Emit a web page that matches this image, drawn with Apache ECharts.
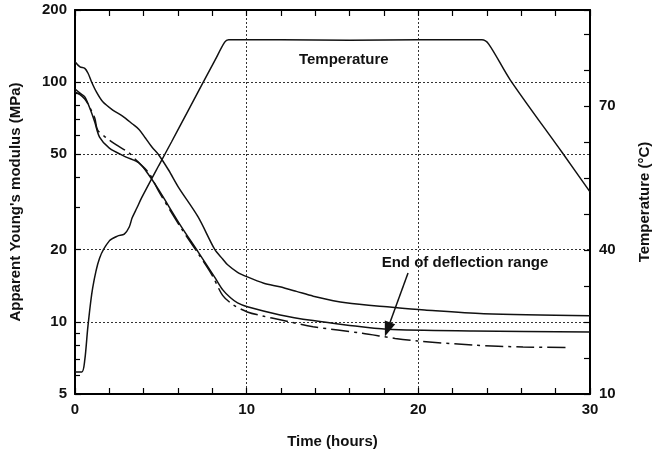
<!DOCTYPE html>
<html>
<head>
<meta charset="utf-8">
<script src="https://cdn.jsdelivr.net/npm/echarts@6/dist/echarts.min.js"></script>
<style>
  html, body { margin: 0; padding: 0; background: #fff; }
  #chart { width: 660px; height: 454px; }
</style>
</head>
<body>
<div id="chart"></div>
<script>
// time (hours) and values
const tempTime = [0, 0.4, 0.57, 0.75, 1.03, 1.43, 2.0, 2.47, 2.87, 3.16, 3.33, 3.61, 3.9, 4.88, 5.62, 6.6, 7.34, 8.15, 8.72, 8.95, 12, 16, 20, 23.7, 24.1, 25.36, 28.4, 30]
const tempValues = [14.6, 14.6, 17.1, 24, 32.1, 38.3, 41.9, 42.9, 43.3, 44.8, 46.7, 48.8, 51, 57.6, 62.5, 69.1, 74.1, 79.5, 83.3, 83.8, 83.8, 83.7, 83.8, 83.8, 82.9, 75.4, 60.2, 52.1]

const upperTime = [0, 0.29, 0.57, 0.76, 0.96, 1.24, 1.62, 2.2, 2.77, 3.35, 3.73, 4.1, 4.48, 4.88, 5.45, 6.02, 7.17, 8.15, 8.6, 8.89, 9.47, 10.04, 11.0, 11.93, 12.9, 13.88, 15.78, 18.47, 20.37, 23.81, 30]
const upperValues = [121.7, 115.8, 114.2, 108.9, 100.4, 91.2, 82.8, 76.5, 72.2, 66.9, 63.5, 58.5, 53.6, 49.7, 43, 36.5, 27.4, 20, 18.3, 17.3, 16.1, 15.4, 14.5, 14.0, 13.4, 12.8, 12.0, 11.5, 11.2, 10.8, 10.6]

const midTime = [0, 0.29, 0.57, 0.86, 1.15, 1.43, 2.0, 2.98, 3.73, 4.3, 4.88, 6.2, 7.17, 8.2, 8.61, 9.06, 9.47, 10.04, 11.95, 13.87, 15.78, 18.17, 23.2, 30]
const midValues = [93.6, 90, 86.8, 78, 68.2, 59, 53.1, 48.7, 46, 41, 35.5, 24.9, 19.6, 15.1, 13.6, 12.6, 12.0, 11.56, 10.69, 10.12, 9.71, 9.31, 9.16, 9.08]

const dashTime = [0, 0.29, 0.57, 0.86, 1.15, 1.32, 1.84, 2.41, 3.16, 3.56, 4.3, 4.88, 6.2, 7.17, 8.0, 8.6, 9.2, 10.04, 11.0, 11.95, 13.87, 16.74, 18.65, 19.97, 23.2, 26.1, 28.6]
const dashValues = [91, 88.7, 85, 78.5, 70.9, 63.1, 58.5, 54.7, 50.6, 47.3, 41.8, 35, 24.5, 19.3, 15.6, 12.9, 11.8, 11.0, 10.55, 10.2, 9.55, 8.96, 8.53, 8.32, 8.0, 7.85, 7.82]

const xLabels = [0, 10, 20, 30]
const modulusLabels = [5, 10, 20, 50, 100, 200]
const modulusMinor = [6, 7, 8, 9, 30, 40, 60, 70, 80, 90]
const tempLabels = [10, 40, 70]

// annotations
const tempTextAt = [15.66, 123.7]
const endTextAt = [22.72, 17.6]
const arrowFrom = [19.4, 16.0]
const arrowTo = [18.2, 9.3]

const font = 'Liberation Sans, Arial, Helvetica, sans-serif'
const ink = '#111'

function zip(a, b) { return a.map((v, i) => [v, b[i]]) }

const chart = echarts.init(document.getElementById('chart'))

const labelStyle = { color: ink, fontFamily: font, fontWeight: 'bold', fontSize: 15 }
const nameStyle = { color: ink, fontFamily: font, fontWeight: 'bold', fontSize: 15 }
const gridLine = { show: true, lineStyle: { color: '#333', type: [2, 2], width: 1 } }
const axisLine = { show: true, lineStyle: { color: '#000', width: 2 } }
const tick = { show: true, inside: true, length: 6, lineStyle: { color: '#000', width: 1.2 } }

const lineBase = {
  type: 'line',
  showSymbol: false,
  smooth: 0.3,
  silent: true,
  lineStyle: { color: ink, width: 1.5 }
}

chart.setOption({
  animation: false,
  grid: { left: 75, right: 62, top: 10, bottom: 60 },
  xAxis: [
    {
      type: 'value', min: 0, max: 30, interval: 10, position: 'bottom',
      name: 'Time (hours)', nameLocation: 'middle', nameGap: 40, nameTextStyle: nameStyle,
      axisLine: axisLine, axisTick: tick,
      minorTick: { show: true, splitNumber: 5, length: 6, lineStyle: { color: '#000', width: 1.2 } },
      axisLabel: Object.assign({ margin: 8, customValues: xLabels }, labelStyle),
      splitLine: gridLine
    },
    {
      type: 'value', min: 0, max: 30, interval: 10, position: 'top',
      axisLine: axisLine, axisTick: tick,
      minorTick: { show: true, splitNumber: 5, length: 6, lineStyle: { color: '#000', width: 1.2 } },
      axisLabel: { show: false }, splitLine: { show: false }
    }
  ],
  yAxis: [
    {
      type: 'log', min: 5, max: 200, position: 'left',
      name: "Apparent Young's modulus (MPa)", nameLocation: 'middle', nameGap: 52, nameTextStyle: nameStyle,
      axisLine: axisLine,
      axisTick: Object.assign({ customValues: modulusLabels }, tick),
      axisLabel: Object.assign({ margin: 8, customValues: modulusLabels }, labelStyle),
      splitLine: gridLine
    },
    {
      type: 'log', min: 5, max: 200, position: 'left',
      axisLine: { show: false },
      axisTick: Object.assign({ customValues: modulusMinor }, tick, { length: 5 }),
      axisLabel: { show: false }, splitLine: { show: false }
    },
    {
      type: 'value', min: 10, max: 90, interval: 7.5, position: 'right',
      name: 'Temperature (°C)', nameLocation: 'middle', nameGap: 47, nameTextStyle: nameStyle,
      axisLine: axisLine, axisTick: tick,
      axisLabel: Object.assign({
        margin: 9,
        formatter: v => tempLabels.indexOf(Math.round(v * 10) / 10) >= 0 ? String(v) : ''
      }, labelStyle),
      splitLine: { show: false }
    }
  ],
  series: [
    Object.assign({}, lineBase, { name: 'Temperature', yAxisIndex: 2, data: zip(tempTime, tempValues) }),
    Object.assign({}, lineBase, {
      name: 'upper', yAxisIndex: 0, data: zip(upperTime, upperValues),
      markPoint: {
        silent: true, symbol: 'circle', symbolSize: 0,
        label: { show: true, position: 'inside', color: ink, fontFamily: font, fontWeight: 'bold', fontSize: 15 },
        data: [
          { coord: tempTextAt, value: 'Temperature', label: { formatter: 'Temperature' } },
          { coord: endTextAt, value: 'End', label: { formatter: 'End of deflection range' } }
        ]
      }
    }),
    Object.assign({}, lineBase, {
      name: 'middle', yAxisIndex: 0, data: zip(midTime, midValues),
      markLine: {
        silent: true, symbol: ['none', 'triangle'], symbolSize: [11, 15],
        lineStyle: { color: ink, width: 1.5, type: 'solid' },
        itemStyle: { color: ink },
        label: { show: false },
        data: [[{ coord: arrowFrom }, { coord: arrowTo }]]
      }
    }),
    Object.assign({}, lineBase, {
      name: 'dashdot', yAxisIndex: 0, data: zip(dashTime, dashValues),
      lineStyle: { color: ink, width: 1.5, type: [18, 5, 3, 5] }
    })
  ]
})
</script>
</body>
</html>
